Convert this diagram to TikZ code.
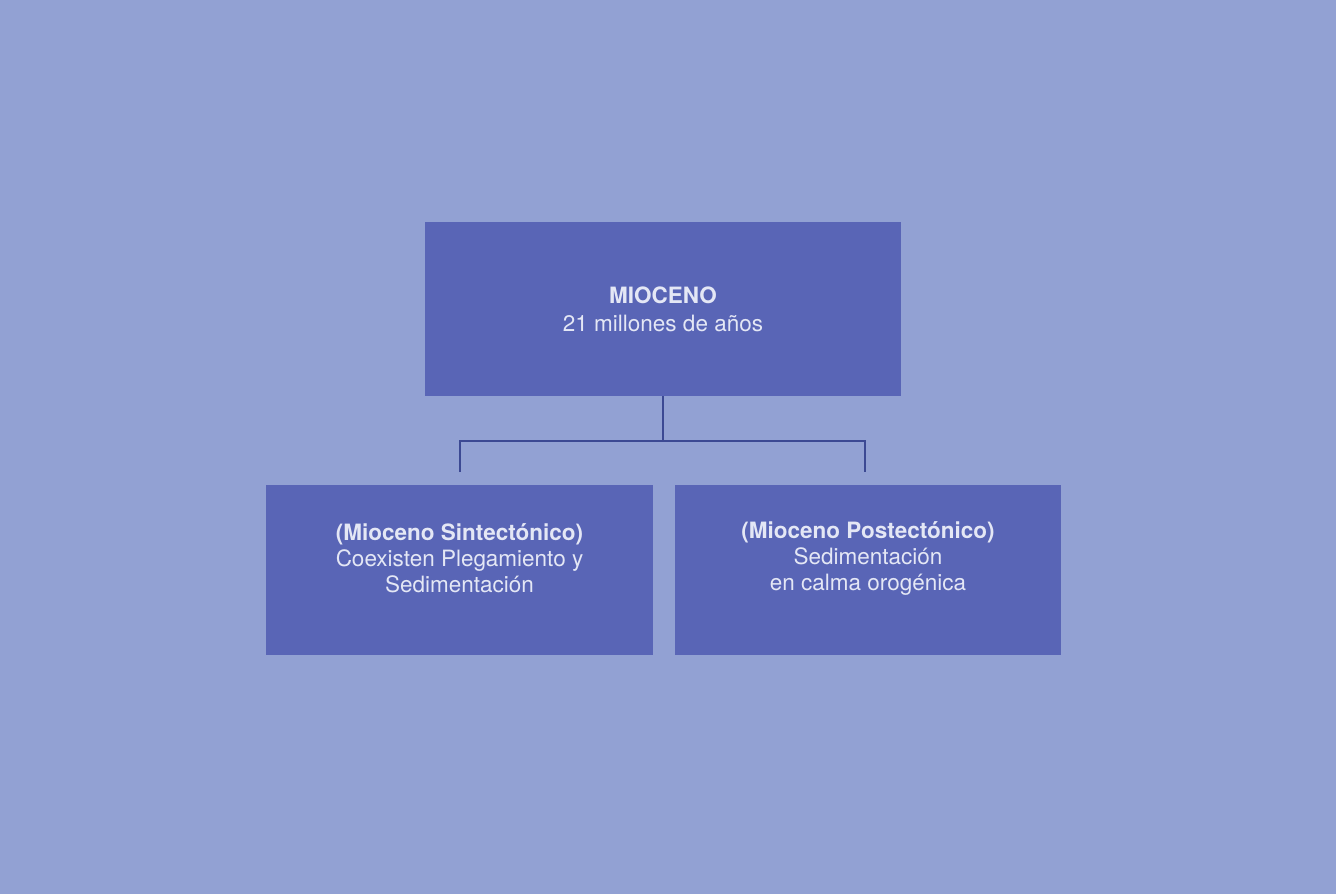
\documentclass[tikz,border=0pt]{standalone}
\usepackage{fontspec}
\setmainfont{TeX Gyre Heros}

\definecolor{paper}{HTML}{92A1D3}
\definecolor{boxblue}{HTML}{5965B6}
\definecolor{linkblue}{HTML}{3C4993}
\definecolor{txtlight}{HTML}{E4E7F5}

\tikzset{
  era/.style={fill=boxblue, draw=none, inner sep=0pt},
  caption/.style={text=txtlight, align=center, font=\fontsize{22.5}{26}\selectfont},
  link/.style={draw=linkblue, line width=1.4pt}
}

\begin{document}
\begin{tikzpicture}[x=1pt, y=-1pt]
    % page
    \fill[paper] (0,0) rectangle (1336,894);
    \useasboundingbox (0,0) rectangle (1336,894);

    % boxes
    \node[era, minimum width=476, minimum height=174] (mio) at (663,309) {};
    \node[era, minimum width=387, minimum height=170] (sint) at (459.5,570) {};
    \node[era, minimum width=386, minimum height=170] (post) at (868,570) {};

    \node[caption, font=\fontsize{22.5}{28}\selectfont] (miotxt) at (mio.center)
        {\textbf{MIOCENO}\\21 millones de años};
    \node[caption] (sinttxt) at ([yshift=12]sint.center)
        {\textbf{(Mioceno Sintectónico)}\\Coexisten Plegamiento y\\Sedimentación};
    \node[caption] (posttxt) at ([yshift=12]post.center)
        {\textbf{(Mioceno Postectónico)}\\Sedimentación\\en calma orogénica};

    % connectors
    \coordinate (split) at (663,441);
    \coordinate (lft) at (460,472);
    \coordinate (rgt) at (865,472);
    \draw[link] (mio.south) -- (split);
    \draw[link] (lft) -- (lft|-split) -- (rgt|-split) -- (rgt);

\end{tikzpicture}
\end{document}
